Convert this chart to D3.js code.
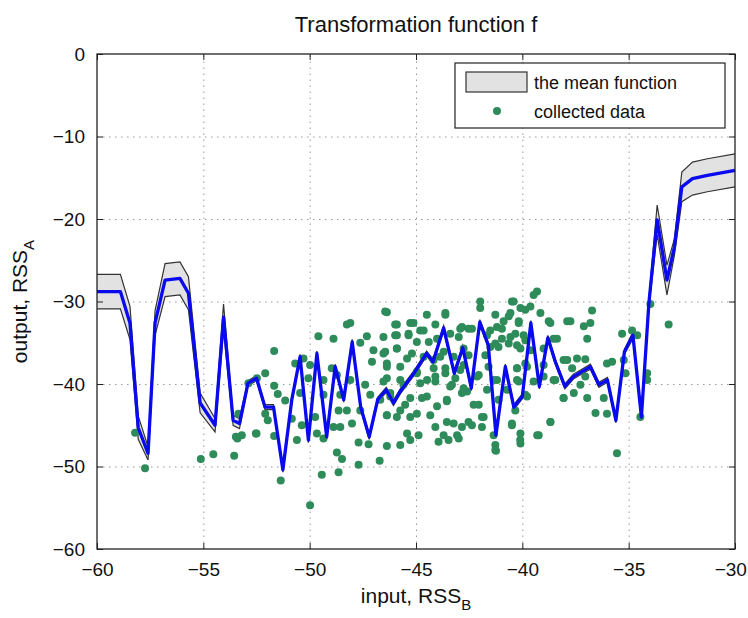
<!DOCTYPE html>
<html lang="en">
<head>
<meta charset="UTF-8" />
<title>Transformation function f</title>
<script src="https://d3js.org/d3.v7.min.js"></script>
<style>
    body { margin: 0; background: #fff; font-family: 'Liberation Sans', Arial, sans-serif; }
    .grid line { stroke: #999; stroke-dasharray: 1.5 4.5; }
    .grid .domain { display: none; }
    .axis text { font-size: 19px; fill: #111; }
    .axis .domain { display: none; }
</style>
</head>
<body>
<svg width="748" height="618"></svg>
<script>
// mean function (x, mean, half width of the band)
var meanX = [-60, -58.9, -58.45, -58.06, -57.6, -57.27, -56.8, -56.1, -55.7, -55.15, -54.45, -54.05, -53.6, -53.3,
    -52.9, -52.5, -52.1, -51.7, -51.26, -50.84, -50.45, -50.06, -49.66, -49.2, -48.8, -48.4, -48.0, -47.6, -47.2,
    -46.8, -46.4, -46.06, -45.74, -45.1, -44.5, -44.2, -43.7, -43.2, -42.8, -42.4, -42.0, -41.6, -41.24, -40.8,
    -40.4, -40.0, -39.6, -39.2, -38.8, -38.45, -38.0, -37.6, -37.2, -36.8, -36.4, -36.0, -35.6, -35.2, -34.8,
    -34.4, -34.05, -33.66, -33.2, -32.85, -32.5, -32.0, -31.3, -30];
var meanY = [-28.8, -28.8, -32.6, -45.3, -48.4, -32.6, -27.4, -27.2, -29.0, -42.3, -45.0, -31.9, -44.4, -44.8,
    -39.9, -39.3, -42.8, -42.8, -50.4, -41.9, -36.7, -46.8, -36.3, -46.4, -37.9, -41.9, -34.9, -42.8, -46.4,
    -41.9, -40.7, -42.3, -40.9, -38.7, -36.3, -37.3, -33.2, -38.7, -35.6, -40.5, -32.5, -35.3, -46.2, -37.9,
    -42.8, -41.5, -32.6, -40.3, -34.4, -37.3, -40.3, -39.1, -38.5, -37.9, -40.1, -39.5, -44.4, -36.1, -34.1,
    -44.0, -30.2, -20.1, -27.4, -23.4, -16.1, -15.1, -14.7, -14.1];
var meanHalf = [2.1, 2.1, 2.0, 1.4, 0.8, 1.5, 2.0, 2.0, 2.0, 1.2, 0.8, 1.6, 0.6, 0.6,
    0.3, 0.3, 0.3, 0.3, 0.3, 0.3, 0.3, 0.3, 0.3, 0.3, 0.3, 0.3, 0.3, 0.3, 0.3,
    0.3, 0.3, 0.3, 0.3, 0.3, 0.3, 0.3, 0.3, 0.3, 0.3, 0.3, 0.3, 0.3, 0.3, 0.3,
    0.3, 0.3, 0.3, 0.3, 0.3, 0.3, 0.3, 0.3, 0.3, 0.3, 0.3, 0.3, 0.3, 0.3, 0.4,
    0.4, 0.5, 1.8, 1.8, 1.0, 1.8, 2.0, 2.0, 2.0];

// collected data
var dataX = [-58.21, -57.74, -55.12, -54.53, -53.55, -53.4, -53.19, -52.53, -53.35, -51.67, -52.09, -52.48, -52.88,
    -51.67, -51.5, -51.15, -52.09, -51.97, -51.67, -51.36, -53.47, -52.5,
    -46.37, -48.09, -48.25, -49.59, -48.88, -47.31, -47.62, -45.9, -45.9, -45.27, -45.35, -44.8, -47.0, -46.53,
    -45.9, -44.96, -50.29, -49.98, -48.96, -50.68, -47.07, -46.37, -45.42, -44.64, -50.06, -49.35, -48.72, -47.39,
    -48.09, -46.37, -45.74, -44.96, -44.48, -50.45, -49.35, -48.56, -47.15, -46.68, -46.21, -45.51, -44.72, -48.64,
    -48.25, -47.62, -49.74, -46.37, -45.9, -45.27, -50.84, -48.88, -48.01, -48.56, -50.37, -49.66, -49.35, -50.6,
    -45.42, -44.88, -45.27, -47.7, -47.23, -46.37, -45.74, -48.72, -48.48, -47.7, -46.71, -49.43, -48.64, -49.98,
    -39.31, -39.47, -41.98, -41.98, -40.41, -43.62, -40.09, -39.62, -39.15, -40.56, -38.76, -44.09, -42.84, -42.53,
    -41.19, -40.88, -40.17, -43.39, -44.01, -42.99, -41.66, -40.96, -40.56, -39.94, -38.37, -41.51, -41.12, -40.25,
    -39.62, -39.0, -43.7, -43.23, -42.53, -44.17, -43.62, -42.76, -41.59, -40.25, -39.78, -39.0, -38.06, -44.09,
    -43.15, -42.13, -41.19, -40.25, -39.47, -38.53, -43.39, -42.6, -41.66, -40.72, -39.86, -38.06, -43.55, -42.29,
    -44.01, -40.33, -41.82, -43.23, -42.84, -42.37, -44.09, -41.9, -40.49, -38.68, -43.7, -43.07, -41.35, -40.09,
    -39.23, -43.94, -43.47, -40.09, -41.27, -41.27, -42.99, -41.24, -40.1, -39.3,
    -36.72, -36.8, -37.11, -36.95, -37.74, -35.31, -34.84, -34.6, -33.98, -33.12, -37.43, -37.04, -36.02, -35.78,
    -35.23, -37.66, -37.04, -37.27, -35.15, -34.13, -37.58, -36.95, -36.17, -36.56, -36.02, -34.45, -35.55, -34.13,
    -46.45, -45.98, -45.12, -44.49, -43.62, -46.53, -45.98, -45.35, -44.64, -44.4, -42.92, -42.37, -46.45, -45.9,
    -45.19, -43.86, -42.76, -46.37, -45.74, -44.96, -44.17, -43.62, -42.92, -46.53, -45.59, -44.8, -44.09, -43.31,
    -42.76, -46.21, -45.27, -44.49, -43.55, -42.84, -46.37, -45.74, -44.96, -44.33, -43.55, -42.53,
    -40.49, -39.86, -41.27, -40.64, -40.17, -38.68, -37.89, -41.51, -40.96, -40.33, -39.86, -41.27, -40.64, -40.09,
    -38.53, -41.74, -40.25, -39.86, -38.45, -37.89, -42.05, -41.35, -40.17, -39.0, -42.05, -41.12, -39.78, -38.06,
    -41.9, -38.68, -40.49];
var dataY = [-45.9, -50.2, -49.1, -48.5, -48.7, -46.6, -46.2, -46.0, -43.6, -36.0, -38.7, -39.3, -39.9,
    -40.2, -41.2, -42.0, -43.6, -44.4, -46.3, -51.7, -46.4, -46.0,
    -31.3, -32.6, -32.8, -34.2, -34.5, -34.2, -35.0, -32.8, -34.1, -32.6, -34.1, -33.5, -35.9, -36.3,
    -35.7, -34.9, -36.9, -37.7, -38.1, -37.5, -37.3, -37.5, -36.9, -36.7, -39.3, -39.5, -38.9, -40.1,
    -39.5, -39.3, -39.5, -38.7, -39.5, -41.1, -41.3, -41.3, -41.3, -41.9, -41.1, -42.5, -41.7, -43.2,
    -43.2, -43.2, -44.0, -43.8, -44.0, -44.0, -44.2, -45.2, -44.8, -45.2, -45.0, -46.0, -46.6, -46.8,
    -46.0, -46.2, -46.8, -47.1, -47.3, -47.5, -47.4, -48.3, -49.1, -49.8, -49.3, -51.0, -50.7, -54.7,
    -28.8, -29.2, -30.0, -30.8, -30.0, -31.4, -30.8, -30.6, -31.4, -31.4, -32.4, -32.8, -33.1, -33.3,
    -33.1, -32.4, -32.6, -33.9, -34.5, -34.3, -34.1, -34.5, -34.3, -34.1, -34.5, -35.5, -35.5, -35.3,
    -35.9, -35.7, -36.1, -36.7, -36.5, -37.1, -38.1, -37.7, -37.9, -38.1, -37.9, -37.7, -37.1, -39.1,
    -39.3, -39.1, -39.5, -39.5, -39.7, -39.5, -40.3, -40.9, -40.7, -40.7, -41.3, -41.7, -42.1, -42.5,
    -42.7, -43.2, -44.0, -44.8, -45.2, -45.0, -45.2, -45.2, -45.0, -44.6, -46.2, -46.2, -46.2, -46.0,
    -46.2, -47.0, -46.8, -47.2, -47.4, -48.0, -46.6, -48.1, -46.8, -46.2,
    -31.1, -32.6, -33.0, -34.5, -32.4, -33.9, -33.5, -34.1, -30.3, -32.8, -36.9, -37.0, -37.5, -37.3,
    -37.1, -38.1, -39.1, -40.1, -38.7, -38.7, -41.1, -41.7, -41.7, -43.5, -43.6, -44.0, -48.4, -39.5,
    -31.2, -32.8, -32.6, -31.6, -31.6, -34.3, -34.1, -33.9, -33.5, -34.9, -33.3, -33.3, -36.1, -35.7,
    -36.3, -36.7, -35.7, -37.9, -37.9, -38.5, -38.1, -38.7, -38.3, -39.7, -40.1, -39.9, -39.7, -40.1,
    -40.5, -41.5, -41.7, -41.5, -41.9, -41.1, -43.8, -43.2, -43.6, -43.8, -44.6, -44.6,
    -30.0, -31.0, -31.6, -31.8, -32.4, -32.6, -32.4, -33.5, -33.3, -33.9, -34.7, -35.1, -35.1, -35.7,
    -34.5, -36.5, -38.1, -37.5, -39.5, -37.1, -38.9, -39.5, -39.7, -39.1, -42.5, -41.9, -41.5, -41.7,
    -44.0, -44.6, -44.8];

var xTicks = [-60, -55, -50, -45, -40, -35, -30];
var yTicks = [0, -10, -20, -30, -40, -50, -60];

var svg = d3.select("svg"),
    margin = {top: 54, right: 13, bottom: 69, left: 97},
    width = +svg.attr("width") - margin.left - margin.right,
    height = +svg.attr("height") - margin.top - margin.bottom,
    g = svg.append("g").attr("transform", "translate(" + margin.left + "," + margin.top + ")");

var x = d3.scaleLinear().domain([-60, -30]).range([0, width]);
var y = d3.scaleLinear().domain([-60, 0]).range([height, 0]);
var fmt = function(d) { return d3.format("d")(d).replace("-", "\u2013"); };

// dotted grid
g.append("g").attr("class", "grid")
    .attr("transform", "translate(0," + height + ")")
    .call(d3.axisBottom(x).tickValues(xTicks.slice(1, -1)).tickSize(-height).tickFormat(""));
g.append("g").attr("class", "grid")
    .call(d3.axisLeft(y).tickValues(yTicks.slice(1, -1)).tickSize(-width).tickFormat(""));

var pts = meanX.map(function(v, i) { return {x: v, m: meanY[i], h: meanHalf[i]}; });

// band
g.append("path").datum(pts)
    .attr("fill", "#e2e2e2")
    .attr("d", d3.area().x(function(d) { return x(d.x); })
        .y0(function(d) { return y(d.m - d.h); })
        .y1(function(d) { return y(d.m + d.h); }));
[1, -1].forEach(function(s) {
    g.append("path").datum(pts)
        .attr("fill", "none").attr("stroke", "#333").attr("stroke-width", 1.2)
        .attr("d", d3.line().x(function(d) { return x(d.x); })
            .y(function(d) { return y(d.m + s * d.h); }));
});

// collected data
g.append("g").selectAll("circle")
    .data(dataX.map(function(v, i) { return [v, dataY[i]]; }))
    .enter().append("circle")
    .attr("cx", function(d) { return x(d[0]); })
    .attr("cy", function(d) { return y(d[1]); })
    .attr("r", 4)
    .attr("fill", "#2e8b5a");

// mean line
g.append("path").datum(pts)
    .attr("fill", "none").attr("stroke", "#0a0aef").attr("stroke-width", 3.3)
    .attr("stroke-linejoin", "round")
    .attr("d", d3.line().x(function(d) { return x(d.x); }).y(function(d) { return y(d.m); }));

// axes with inward ticks on all sides
g.append("g").attr("class", "axis")
    .attr("transform", "translate(0," + height + ")")
    .call(d3.axisBottom(x).tickValues(xTicks).tickSize(-6).tickPadding(14).tickFormat(fmt))
    .selectAll(".tick text").filter(function(d) { return d === -30; })
    .attr("text-anchor", "end").attr("dx", "0.6em");
g.append("g").attr("class", "axis")
    .call(d3.axisLeft(y).tickValues(yTicks).tickSize(-6).tickPadding(12).tickFormat(fmt));
g.append("g").attr("class", "axis")
    .call(d3.axisTop(x).tickValues(xTicks).tickSize(-6).tickFormat(""));
g.append("g").attr("class", "axis")
    .attr("transform", "translate(" + width + ",0)")
    .call(d3.axisRight(y).tickValues(yTicks).tickSize(-6).tickFormat(""));
g.selectAll(".axis .tick line").attr("stroke", "#222");
g.append("rect").attr("width", width).attr("height", height)
    .attr("fill", "none").attr("stroke", "#222").attr("stroke-width", 1.3);

// title and labels
svg.append("text").attr("x", margin.left + width / 2).attr("y", 32)
    .attr("text-anchor", "middle").attr("font-size", 22).attr("fill", "#111")
    .text("Transformation function f");
var xl = svg.append("text").attr("x", margin.left + width / 2).attr("y", 603)
    .attr("text-anchor", "middle").attr("font-size", 21).attr("fill", "#111");
xl.append("tspan").text("input, RSS");
xl.append("tspan").attr("font-size", 15).attr("dy", 7).text("B");
var yl = svg.append("text").attr("transform", "translate(27," + (margin.top + height / 2) + ") rotate(-90)")
    .attr("text-anchor", "middle").attr("font-size", 21).attr("fill", "#111");
yl.append("tspan").text("output, RSS");
yl.append("tspan").attr("font-size", 15).attr("dy", 7).text("A");

// legend
var lg = svg.append("g").attr("transform", "translate(455,63)");
lg.append("rect").attr("width", 270).attr("height", 65)
    .attr("fill", "#fff").attr("stroke", "#222").attr("stroke-width", 1.2);
lg.append("rect").attr("x", 11).attr("y", 9).attr("width", 61).attr("height", 20)
    .attr("fill", "#e2e2e2").attr("stroke", "#333").attr("stroke-width", 1.2);
lg.append("circle").attr("cx", 42).attr("cy", 48).attr("r", 4).attr("fill", "#2e8b5a");
lg.append("text").attr("x", 79).attr("y", 26).attr("font-size", 18).attr("fill", "#111").text("the mean function");
lg.append("text").attr("x", 79).attr("y", 55).attr("font-size", 18).attr("fill", "#111").text("collected data");
</script>
</body>
</html>
